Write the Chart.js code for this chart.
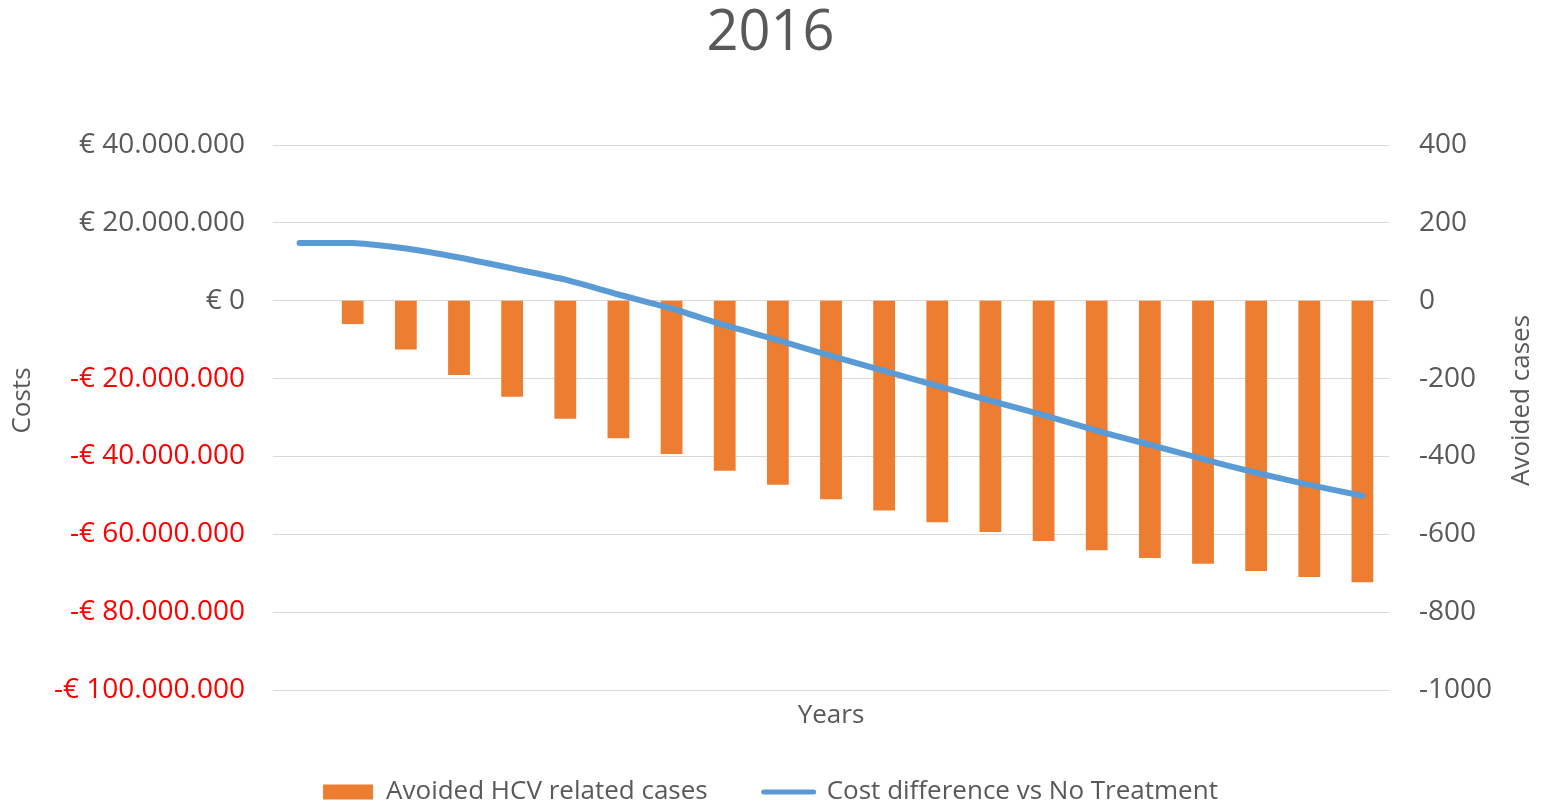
<!DOCTYPE html>
<html>
<head>
<meta charset="utf-8">
<script src="https://cdn.jsdelivr.net/npm/chart.js@4.4.1/dist/chart.umd.min.js"></script>
<style>
  html, body { margin: 0; padding: 0; background: #ffffff; }
  #wrap { width: 1541px; height: 806px; position: relative; }
</style>
</head>
<body>
<div id="wrap"><canvas id="c"></canvas></div>
<script>
// ---- Data ----
const chartTitle = '2016';
const years = ['2016','2017','2018','2019','2020','2021','2022','2023','2024','2025','2026',
               '2027','2028','2029','2030','2031','2032','2033','2034','2035','2036'];
const avoidedCases = [0, -60, -125, -191, -247, -303, -353, -394, -437, -473, -510,
                      -539, -569, -594, -617, -641, -661, -676, -694, -710, -723];
const costDifference = [14800000, 14800000, 13400000, 11100000, 8300000, 5400000, 1600000,
                        -2000000, -6300000, -10100000, -14200000, -18000000, -21900000,
                        -25700000, -29400000, -33400000, -37000000, -40700000, -44200000,
                        -47300000, -50100000];
const costAxis = { min: -100000000, max: 40000000, step: 20000000 };
const casesAxis = { min: -1000, max: 400, step: 200 };
const seriesNames = ['Avoided HCV related cases', 'Cost difference vs No Treatment'];
const axisTitles = { x: 'Years', left: 'Costs', right: 'Avoided cases' };

// ---- Helpers ----
const GREY = '#595959';
const FONT = "'Open Sans', 'Noto Sans', sans-serif";
function euro(v) {
  const abs = Math.abs(Math.round(v));
  const s = abs.toString().replace(/\B(?=(\d{3})+(?!\d))/g, '.');
  return (v < 0 ? '-€ ' : '€ ') + s;
}

Chart.defaults.font.family = FONT;
Chart.defaults.color = GREY;

const yTitlesPlugin = {
  id: 'yTitles',
  afterDraw(chart) {
    const ctx = chart.ctx, a = chart.chartArea;
    const cy = (a.top + a.bottom) / 2 - 17;
    ctx.save();
    ctx.font = '26px ' + FONT;
    ctx.fillStyle = GREY;
    ctx.textAlign = 'center';
    ctx.textBaseline = 'middle';
    ctx.save();
    ctx.translate(chart.scales.y.left + 23, cy);
    ctx.rotate(-Math.PI / 2);
    ctx.fillText(axisTitles.left, 0, 0);
    ctx.restore();
    ctx.save();
    ctx.translate(chart.scales.y1.right - 19, cy);
    ctx.rotate(-Math.PI / 2);
    ctx.fillText(axisTitles.right, 0, 0);
    ctx.restore();
    ctx.restore();
  }
};

new Chart(document.getElementById('c'), {
  data: {
    labels: years,
    datasets: [
      {
        type: 'bar',
        label: seriesNames[0],
        data: avoidedCases,
        yAxisID: 'y1',
        backgroundColor: '#ED7D31',
        borderWidth: 0,
        barPercentage: 0.41,
        categoryPercentage: 1.0,
        order: 1
      },
      {
        type: 'line',
        label: seriesNames[1],
        data: costDifference,
        yAxisID: 'y',
        borderColor: '#5B9BD5',
        backgroundColor: '#5B9BD5',
        borderWidth: 6,
        borderCapStyle: 'round',
        borderJoinStyle: 'round',
        pointRadius: 0,
        tension: 0.2,
        fill: false,
        order: 0
      }
    ]
  },
  options: {
    responsive: true,
    maintainAspectRatio: false,
    animation: false,
    layout: { padding: { top: 0, left: 0, right: 0, bottom: -9 } },
    plugins: {
      title: {
        display: true,
        text: chartTitle,
        color: GREY,
        font: { size: 56, weight: 'normal', lineHeight: 1.2 },
        padding: { top: 0, bottom: 77.8 }
      },
      legend: {
        position: 'bottom',
        labels: {
          usePointStyle: true,
          pointStyleWidth: 50,
          boxHeight: 15,
          padding: 56,
          color: GREY,
          font: { size: 26 },
          generateLabels(chart) {
            return chart.data.datasets.map((ds, i) => ({
              text: ds.label,
              fillStyle: ds.type === 'bar' ? ds.backgroundColor : ds.borderColor,
              strokeStyle: ds.type === 'bar' ? ds.backgroundColor : ds.borderColor,
              lineWidth: ds.type === 'bar' ? 0 : 5,
              lineCap: 'round',
              pointStyle: ds.type === 'bar' ? 'rect' : 'line',
              fontColor: GREY,
              hidden: false,
              datasetIndex: i
            }));
          }
        }
      },
      tooltip: { enabled: false }
    },
    scales: {
      x: {
        type: 'category',
        offset: true,
        grid: { display: false, drawTicks: false },
        border: { display: false },
        ticks: { display: false },
        title: {
          display: true,
          text: axisTitles.x,
          color: GREY,
          font: { size: 26, lineHeight: 1 },
          padding: { top: 0, bottom: -6 }
        },
        afterFit(s) { s.height = 33; }
      },
      y: {
        position: 'left',
        min: costAxis.min,
        max: costAxis.max,
        grid: { color: '#D9D9D9', lineWidth: 1, drawTicks: false },
        border: { display: false },
        ticks: {
          stepSize: costAxis.step,
          padding: 28,
          font: { size: 28 },
          color: (ctx) => (ctx.tick && ctx.tick.value < 0 ? '#FF0000' : GREY),
          callback: (v) => euro(v)
        },
        afterFit(s) { s.width = 273; }
      },
      y1: {
        position: 'right',
        min: casesAxis.min,
        max: casesAxis.max,
        grid: { display: false, drawTicks: false },
        border: { display: false },
        ticks: {
          stepSize: casesAxis.step,
          padding: 30,
          font: { size: 28 },
          color: GREY,
          callback: (v) => String(v)
        },
        afterFit(s) { s.width = 152; }
      }
    }
  },
  plugins: [yTitlesPlugin]
});
</script>
</body>
</html>
